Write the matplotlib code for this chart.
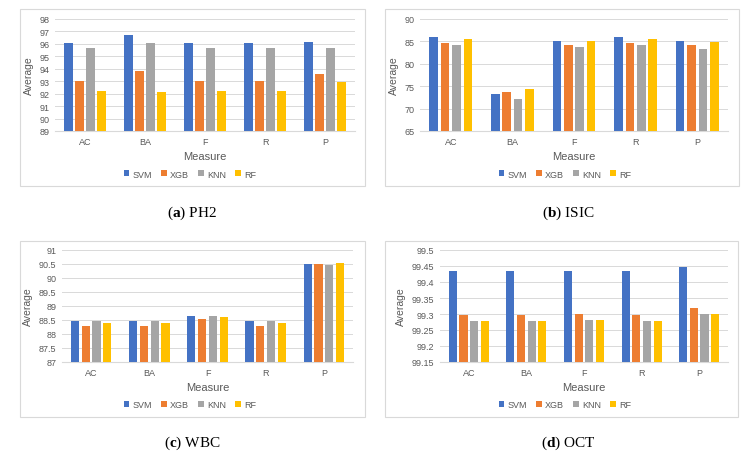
import numpy as np
import matplotlib
matplotlib.use("Agg")
import matplotlib.pyplot as plt
from matplotlib.patches import Rectangle

# ── Data ─────────────────────────────────────────────────────────────────────
measures = ["AC", "BA", "F", "R", "P"]
models = ["SVM", "XGB", "KNN", "RF"]
colors = ["#4472C4", "#ED7D31", "#A5A5A5", "#FFC000"]

# rows = measures, cols = models
ph2 = [[96.10, 93.05, 95.65, 92.20],
       [96.75, 93.85, 96.10, 92.15],
       [96.10, 93.05, 95.65, 92.25],
       [96.10, 93.05, 95.65, 92.20],
       [96.15, 93.55, 95.70, 92.90]]
isic = [[85.9, 84.7, 84.2, 85.5],
        [73.3, 73.8, 72.2, 74.3],
        [85.1, 84.3, 83.7, 85.0],
        [85.9, 84.7, 84.2, 85.5],
        [85.0, 84.1, 83.4, 84.8]]
wbc = [[88.47, 88.30, 88.45, 88.40],
       [88.47, 88.30, 88.45, 88.38],
       [88.65, 88.52, 88.63, 88.60],
       [88.47, 88.30, 88.45, 88.40],
       [90.50, 90.50, 90.48, 90.52]]
oct_ = [[99.433, 99.298, 99.277, 99.277],
        [99.433, 99.298, 99.277, 99.277],
        [99.433, 99.301, 99.282, 99.280],
        [99.433, 99.298, 99.277, 99.277],
        [99.448, 99.320, 99.299, 99.301]]

ph2_ticks = [89, 90, 91, 92, 93, 94, 95, 96, 97, 98]
isic_ticks = [65, 70, 75, 80, 85, 90]
wbc_ticks = [87, 87.5, 88, 88.5, 89, 89.5, 90, 90.5, 91]
oct_ticks = [99.15, 99.2, 99.25, 99.3, 99.35, 99.4, 99.45, 99.5]

W, H = 750, 460
FONT = "Liberation Sans"
TXT = "#595959"

plt.rcParams["mathtext.fontset"] = "custom"
plt.rcParams["mathtext.rm"] = "Liberation Serif"
plt.rcParams["mathtext.bf"] = "Liberation Serif:bold"

fig = plt.figure(figsize=(7.5, 4.6), dpi=100)


def px_axes(x0, y0, x1, y1):
    return fig.add_axes([x0 / W, 1 - y1 / H, (x1 - x0) / W, (y1 - y0) / H])


def frame(x0, y0, x1, y1):
    fig.patches.append(Rectangle((x0 / W, 1 - y1 / H), (x1 - x0) / W, (y1 - y0) / H,
                                 transform=fig.transFigure, fill=False,
                                 edgecolor="#d9d9d9", linewidth=0.8))


def panel(ax, data, ticks, legend_xy):
    data = np.array(data)
    x = np.arange(len(measures))
    for i, (m, c) in enumerate(zip(models, colors)):
        ax.bar(x + (i - 1.5) * 0.185, data[:, i] - ticks[0], bottom=ticks[0],
               width=0.14, color=c, label=m, zorder=3)
    ax.set_ylim(ticks[0], ticks[-1])
    ax.set_xlim(-0.5, len(measures) - 0.5)
    ax.set_yticks(ticks)
    ax.set_yticklabels([f"{t:g}" for t in ticks])
    ax.set_xticks(x)
    ax.set_xticklabels(measures)
    ax.grid(axis="y", color="#d9d9d9", linewidth=0.7, zorder=0)
    for s in ["top", "right", "left"]:
        ax.spines[s].set_visible(False)
    ax.spines["bottom"].set_color("#d9d9d9")
    ax.tick_params(length=0, labelsize=6.5, labelcolor=TXT, pad=4)
    for lbl in ax.get_xticklabels() + ax.get_yticklabels():
        lbl.set_fontfamily(FONT)
    ax.set_xlabel("Measure", fontsize=8, color=TXT, family=FONT, labelpad=4)
    ax.set_ylabel("Average", fontsize=7.5, color=TXT, family=FONT, labelpad=4)
    ax.legend(loc="center", bbox_to_anchor=(legend_xy[0] / W, 1 - legend_xy[1] / H),
              bbox_transform=fig.transFigure, ncol=4, frameon=False,
              prop={"family": FONT, "size": 6.5}, labelcolor=TXT,
              handlelength=0.6, handleheight=0.6, handletextpad=0.4,
              columnspacing=1.0)


frame(20, 10, 365, 187)
frame(385, 10, 739, 187)
frame(20, 242, 365, 418)
frame(385, 242, 738, 418)

ax_a = px_axes(55, 20, 355, 132)
panel(ax_a, ph2, ph2_ticks, (190, 175))
ax_b = px_axes(420, 20, 728, 132)
panel(ax_b, isic, isic_ticks, (565, 175))
ax_c = px_axes(62, 251, 353, 363)
panel(ax_c, wbc, wbc_ticks, (190, 406))
ax_d = px_axes(440, 251, 728, 363)
panel(ax_d, oct_, oct_ticks, (565, 406))

captions = [("a", "PH2", 192, 213), ("b", "ISIC", 568, 213),
            ("c", "WBC", 192, 443), ("d", "OCT", 568, 443)]
for letter, name, cx, cy in captions:
    fig.text(cx / W, 1 - cy / H,
             rf"($\mathbf{{{letter}}}$) {name}", ha="center", va="center",
             fontsize=11, family="Liberation Serif", color="black")

fig.savefig("out.png", dpi=100)
